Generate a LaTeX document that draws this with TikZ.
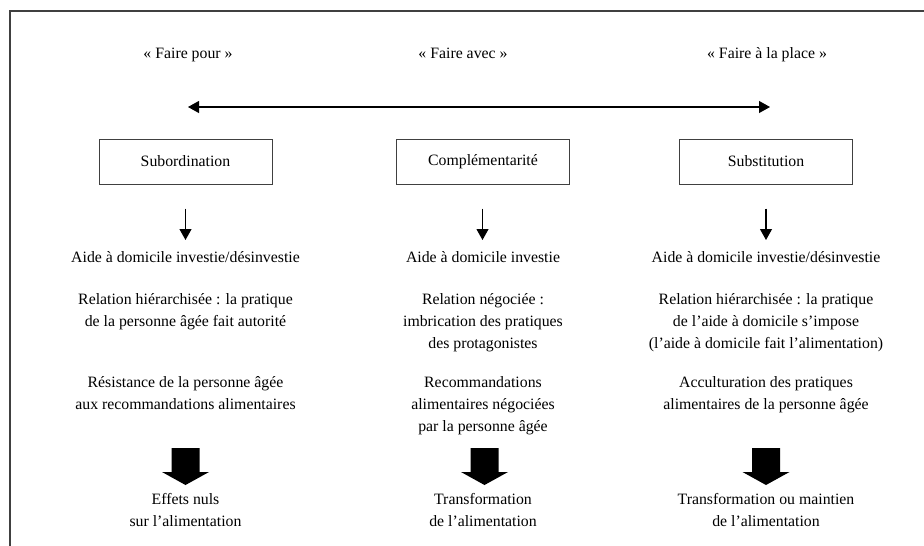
\documentclass[tikz,border=0pt]{standalone}
\usepackage{fontspec}
\setmainfont{Liberation Serif}
\usetikzlibrary{arrows.meta}
\newcommand{\bigdown}[1]{\fill[black] (#1) ++(-14,0) -- ++(28,0) -- ++(0,24) -- ++(9.5,0) -- ++(-23.5,13) -- ++(-23.5,-13) -- ++(9.5,0) -- cycle;}
\begin{document}
\begin{tikzpicture}[x=1pt,y=-1pt,
  txt/.style={font=\fontsize{15.8}{22}\selectfont, align=center, inner sep=0pt, anchor=base},
  box/.style={draw=black!75, line width=1pt, minimum width=173pt, minimum height=45pt, inner sep=0pt, font=\fontsize{15.8}{22}\selectfont},
  arr/.style={-{Triangle[length=11pt,width=12pt]}, line width=1.1pt},
  darr/.style={{Triangle[length=11pt,width=12pt]}-{Triangle[length=11pt,width=12pt]}, line width=1.1pt}]
\useasboundingbox (0,0) rectangle (924,546);
\draw[draw=black!75, line width=1.2pt] (924,11) -- (10,11) -- (10,546);

% top labels
\node[txt] (f1) at (188,58) {«~Faire pour~»};
\node[txt] (f2) at (463,58) {«~Faire avec~»};
\node[txt] (f3) at (767,58) {«~Faire à la place~»};

\coordinate (dl) at (188,107);
\coordinate (dr) at (770,107);
\draw[darr] (dl) -- (dr);

% boxes
\node[box] (b1) at (185.5,161.5) {Subordination};
\node[box] (b2) at (483,161.5) {Complémentarité};
\node[box] (b3) at (766,161.5) {Substitution};

% first lines
\node[txt] (a1) at (185.5,262) {Aide à domicile investie/désinvestie};
\node[txt] (a2) at (483,262) {Aide à domicile investie};
\node[txt] (a3) at (766,262) {Aide à domicile investie/désinvestie};

\coordinate (t1) at (185.5,240);
\coordinate (t2) at (482.5,240);
\coordinate (t3) at (766,240);
\draw[arr, shorten <=24pt] (b1.south) -- (t1);
\draw[arr, shorten <=24pt] (b2.south -| t2) -- (t2);
\draw[arr, shorten <=24pt] (b3.south) -- (t3);

% relations (anchor base = last line)
\node[txt] (r1) at (185.5,326) {Relation hiérarchisée : la pratique\\de la personne âgée fait autorité};
\node[txt] (r2) at (483,348) {Relation négociée :\\imbrication des pratiques\\des protagonistes};
\node[txt] (r3) at (766,348) {Relation hiérarchisée : la pratique\\de l’aide à domicile s’impose\\(l’aide à domicile fait l’alimentation)};

% recommendations
\node[txt] (c1) at (185.5,409) {Résistance de la personne âgée\\aux recommandations alimentaires};
\node[txt] (c2) at (483,431) {Recommandations\\alimentaires négociées\\par la personne âgée};
\node[txt] (c3) at (766,409) {Acculturation des pratiques\\alimentaires de la personne âgée};

% big arrows
\coordinate (g1) at (185.5,448);
\coordinate (g2) at (484.5,448);
\coordinate (g3) at (766,448);
\bigdown{g1}
\bigdown{g2}
\bigdown{g3}

% effects
\node[txt] (e1) at (185.5,526) {Effets nuls\\sur l’alimentation};
\node[txt] (e2) at (483,526) {Transformation\\de l’alimentation};
\node[txt] (e3) at (766,526) {Transformation ou maintien\\de l’alimentation};
\end{tikzpicture}
\end{document}
